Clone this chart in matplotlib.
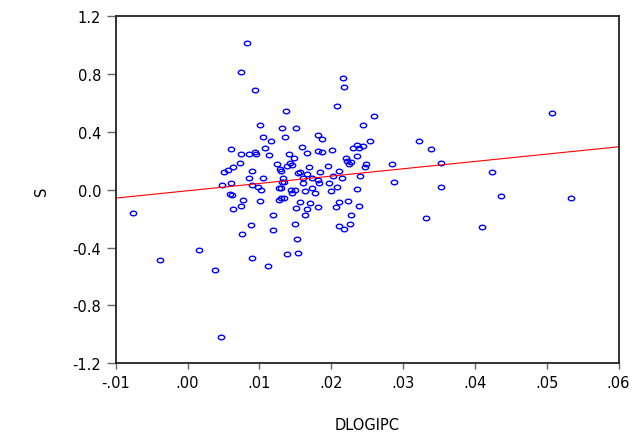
import matplotlib
matplotlib.use("Agg")
import matplotlib.pyplot as plt
import matplotlib.transforms as mtrans
from matplotlib.path import Path
import numpy as np

# scatter data: DLOGIPC (x) vs S (y)
dlogipc = [
    0.00823, 0.00748, 0.00943, 0.01366, 0.01013, 0.01311, 0.01503, 0.01046,
    0.01354, 0.01157, 0.00607, 0.01075, 0.01596, 0.00748, 0.00862, 0.00939,
    0.00955, 0.01127, 0.01415, 0.01663, 0.01813, 0.01868, 0.01486, 0.00726,
    0.00632, 0.00556, 0.00503, 0.00893, 0.01241, 0.01287, 0.01301, 0.01383,
    0.01430, 0.01450, 0.01542, 0.01572, 0.01656, 0.01695, 0.00851, 0.01046,
    0.01325, 0.01308, 0.01338, 0.01610, 0.01604, 0.01735, 0.01809, 0.00486,
    0.00604, 0.00894, 0.00978, 0.01018, 0.01277, 0.01301, 0.01444, 0.01493,
    0.01458, 0.01628, 0.01733, 0.01781, 0.00591, 0.00616, 0.00767, 0.01011,
    0.01276, 0.01305, 0.01347, 0.01565, 0.01705, 0.01820, 0.00744, 0.00636,
    0.01513, 0.01656, 0.01189, 0.01639, 0.00887, 0.01489, -0.00760, 0.00762,
    0.01192, 0.01524, 0.00166, -0.00380, 0.00901, 0.01384, 0.01540, 0.00382,
    0.01123, 0.00469,
    0.02160, 0.02178, 0.02077, 0.02596, 0.02447, 0.05075, 0.01820, 0.01876,
    0.02540, 0.03223, 0.03386, 0.02011, 0.02308, 0.02355, 0.02383, 0.02447,
    0.02355, 0.02202, 0.02216, 0.02272, 0.02244, 0.02489, 0.02471, 0.02843,
    0.03533, 0.01951, 0.01837, 0.02109, 0.02029, 0.02150, 0.02405, 0.04244,
    0.01823, 0.01969, 0.02870, 0.02081, 0.01997, 0.02364, 0.03525, 0.04365,
    0.05344, 0.02104, 0.02067, 0.02230, 0.02383, 0.02280, 0.03324, 0.02109,
    0.02178, 0.02266, 0.04104,
]
s = [
    1.013, 0.813, 0.690, 0.543, 0.446, 0.425, 0.426, 0.363,
    0.363, 0.340, 0.280, 0.291, 0.295, 0.248, 0.248, 0.261,
    0.246, 0.241, 0.250, 0.257, 0.272, 0.265, 0.219, 0.184,
    0.156, 0.136, 0.122, 0.128, 0.176, 0.145, 0.133, 0.168,
    0.183, 0.169, 0.118, 0.122, 0.108, 0.159, 0.084, 0.084,
    0.080, 0.057, 0.052, 0.082, 0.048, 0.083, 0.070, 0.032,
    0.044, 0.033, 0.017, 0.002, 0.010, 0.010, -0.003, 0.000,
    -0.024, -0.006, 0.012, -0.022, -0.029, -0.034, -0.069, -0.080,
    -0.067, -0.059, -0.057, -0.086, -0.093, -0.121, -0.109, -0.131,
    -0.128, -0.129, -0.176, -0.172, -0.241, -0.233, -0.158, -0.304,
    -0.276, -0.340, -0.416, -0.483, -0.470, -0.447, -0.434, -0.553,
    -0.527, -1.018,
    0.773, 0.713, 0.577, 0.508, 0.448, 0.531, 0.382, 0.349,
    0.335, 0.335, 0.282, 0.277, 0.287, 0.312, 0.291, 0.301,
    0.232, 0.218, 0.201, 0.192, 0.180, 0.180, 0.160, 0.178,
    0.183, 0.163, 0.121, 0.128, 0.098, 0.082, 0.095, 0.125,
    0.050, 0.045, 0.054, 0.021, -0.006, 0.003, 0.017, -0.043,
    -0.057, -0.086, -0.121, -0.077, -0.114, -0.176, -0.193, -0.248,
    -0.269, -0.234, -0.255,
]

# fitted regression line (intercept, slope) as drawn on the reference
fit_intercept = -0.0063
fit_slope = 5.07

x_ticks = [-0.01, 0.00, 0.01, 0.02, 0.03, 0.04, 0.05, 0.06]
x_labels = ["-.01", ".00", ".01", ".02", ".03", ".04", ".05", ".06"]
y_ticks = [-1.2, -0.8, -0.4, 0.0, 0.4, 0.8, 1.2]
y_labels = ["-1.2", "-0.8", "-0.4", "0.0", "0.4", "0.8", "1.2"]

plt.rcParams["font.family"] = ["DejaVu Sans"]

fig = plt.figure(figsize=(6.36, 4.35), dpi=100)
ax = fig.add_axes([0.182, 0.1625, 0.7905, 0.7975])

# EViews draws its circles a little wider than tall
ellipse = Path.unit_circle().transformed(mtrans.Affine2D().scale(1.4, 1.0))
ax.plot(dlogipc, s, linestyle="none", marker=ellipse, ms=4.6,
        mfc="none", mec="#0000ff", mew=1.0)

fx = np.array([-0.01, 0.06])
ax.plot(fx, fit_intercept + fit_slope * fx, color="#ff0000", lw=0.8)

ax.set_xlim(-0.01, 0.06)
ax.set_ylim(-1.2, 1.2)
ax.set_xticks(x_ticks)
ax.set_xticklabels(x_labels)
ax.set_yticks(y_ticks)
ax.set_yticklabels(y_labels)
ax.tick_params(axis="y", length=6.5, width=1.0, color="0.4", pad=4,
               labelsize=10.5)
ax.tick_params(axis="x", length=4.5, width=1.0, color="0.4", pad=4,
               labelsize=10.5)
for sp in ax.spines.values():
    sp.set_linewidth(1.3)
    sp.set_color("#222222")

ax.set_xlabel("DLOGIPC", fontsize=10.5, labelpad=19)
ax.set_ylabel("S", fontsize=10.5, labelpad=17)

fig.savefig("out.png", dpi=100)
